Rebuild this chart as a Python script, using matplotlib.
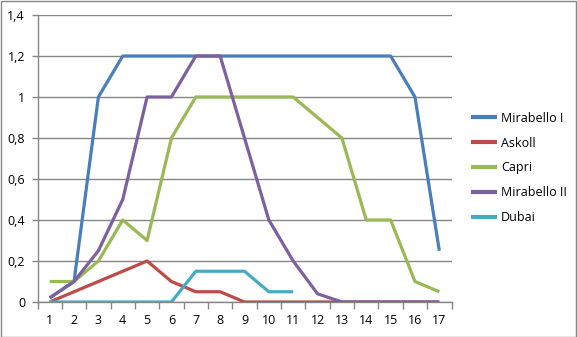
import matplotlib
matplotlib.use("Agg")
import matplotlib.pyplot as plt
from matplotlib.ticker import FuncFormatter, FixedLocator
import numpy as np

categories = list(range(1, 18))
mirabello_i = [0.02, 0.1, 1.0, 1.2, 1.2, 1.2, 1.2, 1.2, 1.2, 1.2, 1.2, 1.2, 1.2, 1.2, 1.2, 1.0, 0.25]
askoll = [0.0, 0.05, 0.1, 0.15, 0.2, 0.1, 0.05, 0.05, 0.0, 0.0, 0.0, 0.0, 0.0, 0.0, 0.0, 0.0, 0.0]
capri = [0.1, 0.1, 0.2, 0.4, 0.3, 0.8, 1.0, 1.0, 1.0, 1.0, 1.0, 0.9, 0.8, 0.4, 0.4, 0.1, 0.05]
mirabello_ii = [0.02, 0.1, 0.25, 0.5, 1.0, 1.0, 1.2, 1.2, 0.8, 0.4, 0.2, 0.04, 0.0, 0.0, 0.0, 0.0, 0.0]
dubai = [0.0, 0.0, 0.0, 0.0, 0.0, 0.0, 0.15, 0.15, 0.15, 0.05, 0.05, None, None, None, None, None, None]

series = [
    ("Mirabello I", mirabello_i, "#4A7EBB"),
    ("Askoll", askoll, "#BE4B48"),
    ("Capri", capri, "#98B954"),
    ("Mirabello II", mirabello_ii, "#7D60A0"),
    ("Dubai", dubai, "#46AAC5"),
]

plt.rcParams['font.family'] = ['Open Sans', 'DejaVu Sans']

W, H = 577, 337
fig = plt.figure(figsize=(W / 100, H / 100), dpi=100)
fig.patch.set_facecolor('white')
# outer border
fig.add_artist(plt.Rectangle((0.5 / W, 0.5 / H), 1 - 1.5 / W, 1 - 1.5 / H, transform=fig.transFigure,
                             fill=False, edgecolor='#868686', lw=1))

left, right, top, bottom = 37.5, 451.5, 15, 302
ax = fig.add_axes([left / W, 1 - bottom / H, (right - left) / W, (bottom - top) / H])

x = np.array(categories, dtype=float)
for name, vals, col in series:
    y = np.array([np.nan if v is None else v for v in vals], dtype=float)
    ax.plot(x, y, color=col, lw=2.3, label=name, solid_joinstyle='round', solid_capstyle='butt', zorder=3)

ax.set_xlim(0.5, 17.5)
ax.set_ylim(0, 1.4)
yt = [0, 0.2, 0.4, 0.6, 0.8, 1.0, 1.2, 1.4]
ax.set_yticks(yt)
ax.yaxis.set_major_formatter(FuncFormatter(lambda v, p: ('%g' % round(v, 1)).replace('.', ',')))
ax.grid(axis='y', color='#868686', lw=1, zorder=0)
ax.set_axisbelow(True)

ax.xaxis.set_major_locator(FixedLocator(np.arange(0.5, 18, 1.0)))
ax.xaxis.set_major_formatter(FuncFormatter(lambda v, p: ''))
ax.xaxis.set_minor_locator(FixedLocator(x))
ax.xaxis.set_minor_formatter(FuncFormatter(lambda v, p: '%d' % round(v)))
ax.tick_params(axis='x', which='major', length=5, direction='out', color='#868686', width=1)
ax.tick_params(axis='x', which='minor', length=0, pad=9, labelsize=9, labelcolor='#000000')
ax.tick_params(axis='y', length=4, direction='out', color='#868686', width=1, labelsize=9, pad=5)

for s in ['top', 'right']:
    ax.spines[s].set_visible(False)
for s in ['left', 'bottom']:
    ax.spines[s].set_color('#868686')
    ax.spines[s].set_linewidth(1)

leg = fig.legend(loc='center left', bbox_to_anchor=(471 / W, 1 - 168 / H), frameon=False,
                 fontsize=9, handlelength=2.1, handletextpad=0.3, labelspacing=0.95, borderpad=0,
                 borderaxespad=0)
for l in leg.get_lines():
    l.set_linewidth(3)

fig.savefig('out.png', dpi=100)
